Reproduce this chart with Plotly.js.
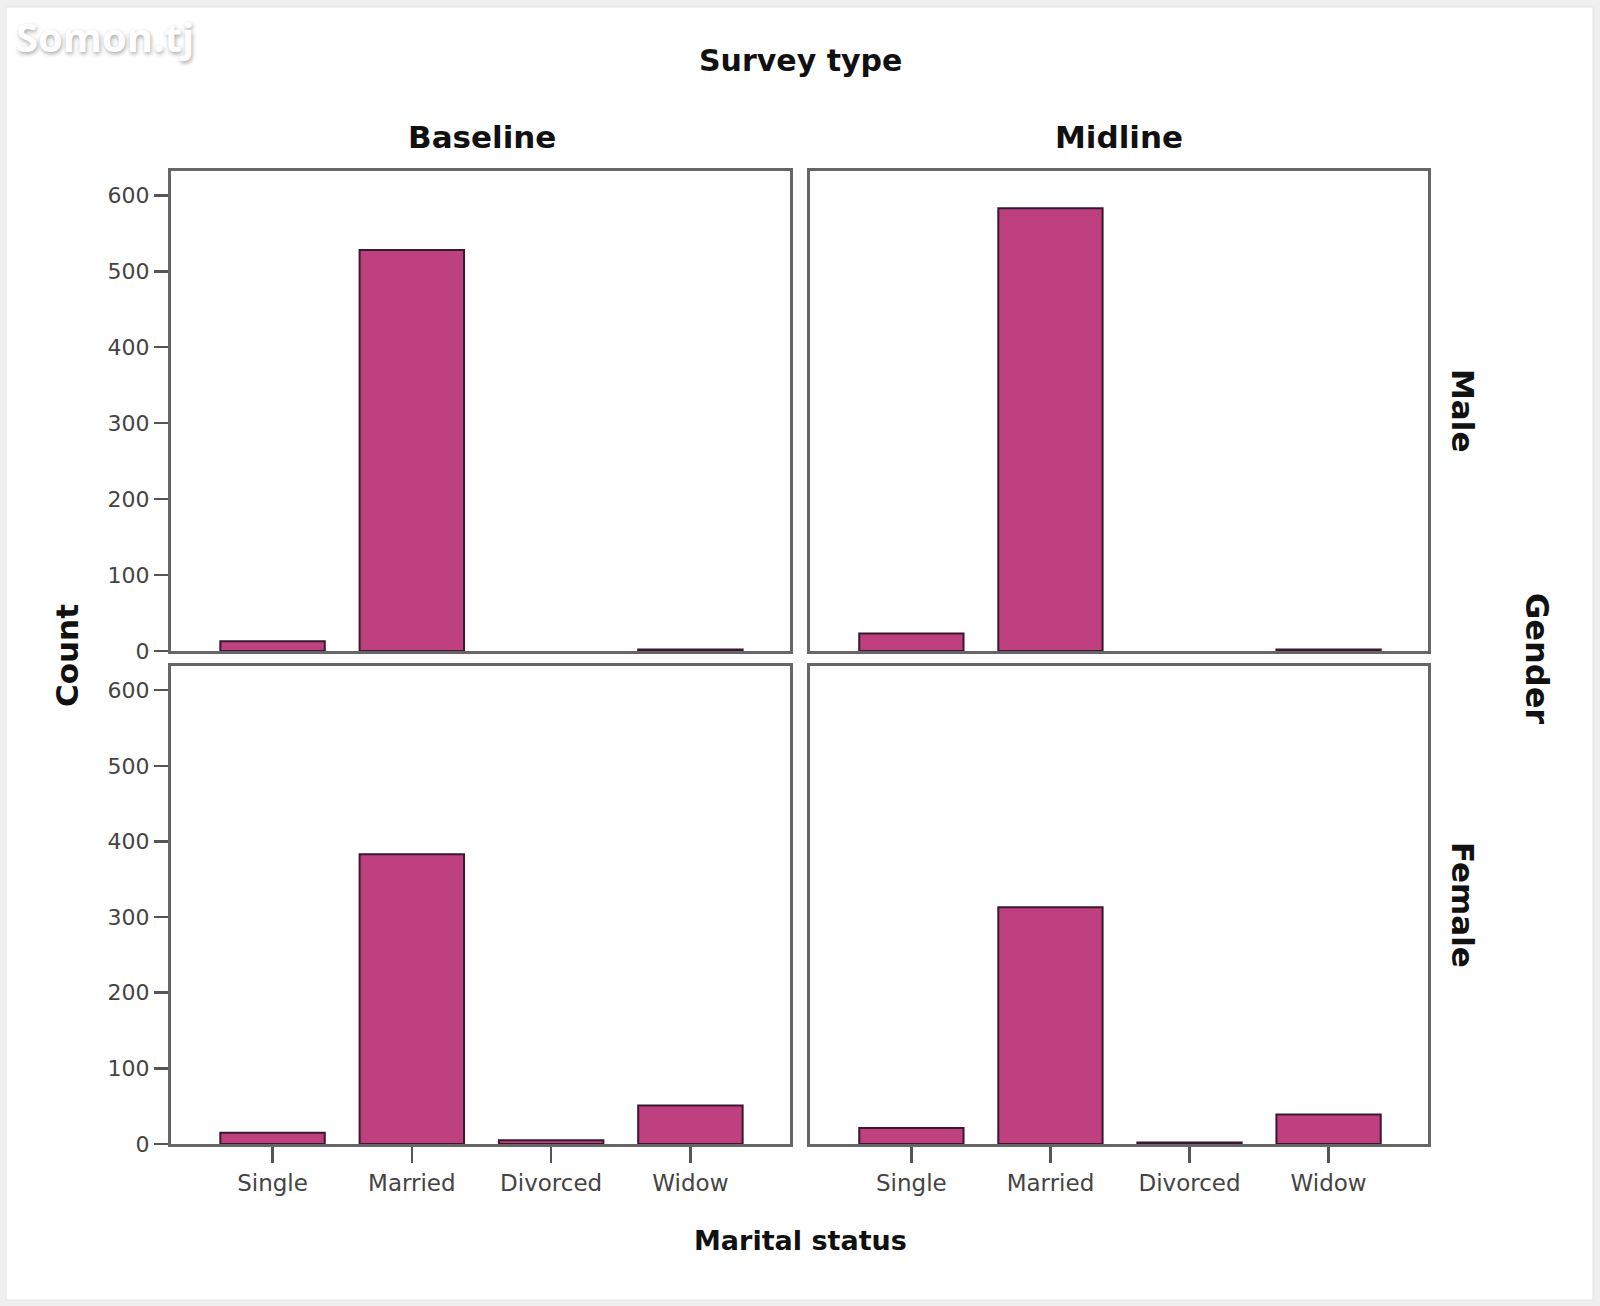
<!DOCTYPE html>
<html>
<head>
<meta charset="utf-8">
<script src="https://cdn.plot.ly/plotly-3.0.1.min.js"></script>
<style>html,body{margin:0;padding:0;background:#efefef;}#chart{width:1600px;height:1306px;}</style>
</head>
<body>
<div id="chart"></div>
<script>
// ---- data ----
const categories = ["Single", "Married", "Divorced", "Widow"];
const baselineMale   = [13, 528, 0, 2];
const midlineMale    = [23, 583, 0, 2];
const baselineFemale = [15, 383, 5, 51];
const midlineFemale  = [21, 313, 2, 39];
const yTickVals = [0, 100, 200, 300, 400, 500, 600];
const surveyTypes = ["Baseline", "Midline"];
const genders = ["Male", "Female"];

// ---- styling ----
const barColor = "#BE407E";
const barLine = "#3a1830";
const frameColor = "#666666";
const W = 1600, H = 1306;
const px = v => v / W;
const py = v => 1 - v / H;

function barTrace(vals, xa, ya) {
  return {
    type: "bar", x: categories, y: vals, xaxis: xa, yaxis: ya,
    width: 0.75,
    marker: {color: barColor,
             line: {color: barLine, width: vals.map(v => v > 0 ? 2 : 0)}},
    hoverinfo: "x+y", showlegend: false
  };
}

const data = [
  barTrace(baselineMale, "x", "y"),
  barTrace(midlineMale, "x2", "y2"),
  barTrace(baselineFemale, "x3", "y3"),
  barTrace(midlineFemale, "x4", "y4")
];

const xLeft = [px(171), px(790)];
const xRight = [px(810), px(1428)];
const yTop = [py(651), py(171)];
const yBottom = [py(1144), py(666)];
const xRange = [-0.729, 3.715];
const yRange = [0, 632];

function xAxis(domain, anchor, showLabels) {
  return {
    domain: domain, anchor: anchor, type: "category", range: xRange,
    showline: true, mirror: true, linecolor: frameColor, linewidth: 3,
    showgrid: false, zeroline: false, fixedrange: true,
    ticks: showLabels ? "outside" : "", ticklen: 16, tickwidth: 2.5, tickcolor: "#555",
    showticklabels: showLabels,
    tickfont: {family: "DejaVu Sans", size: 23, color: "#444"}
  };
}
function yAxis(domain, anchor, showLabels) {
  return {
    domain: domain, anchor: anchor, range: yRange,
    tickvals: yTickVals,
    showline: true, mirror: true, linecolor: frameColor, linewidth: 3,
    showgrid: false, zeroline: false, fixedrange: true,
    ticks: showLabels ? "outside" : "", ticklen: 14, tickwidth: 2.5, tickcolor: "#555",
    showticklabels: showLabels,
    tickfont: {family: "DejaVu Sans", size: 22, color: "#444"}
  };
}

const titleFont = s => ({family: "DejaVu Sans", size: s, color: "#111", weight: "bold"});
function ann(text, x, y, size, angle) {
  return {text: "<b>" + text + "</b>", x: px(x), y: py(y), xref: "paper", yref: "paper",
    xanchor: "center", yanchor: "middle", showarrow: false, textangle: angle || 0,
    font: titleFont(size)};
}

const layout = {
  width: W, height: H,
  margin: {l: 0, r: 0, t: 0, b: 0},
  paper_bgcolor: "#efefef",
  plot_bgcolor: "#ffffff",
  bargap: 0.25,
  xaxis: xAxis(xLeft, "y", false),
  yaxis: yAxis(yTop, "x", true),
  xaxis2: xAxis(xRight, "y2", false),
  yaxis2: yAxis(yTop, "x2", false),
  xaxis3: xAxis(xLeft, "y3", true),
  yaxis3: yAxis(yBottom, "x3", true),
  xaxis4: xAxis(xRight, "y4", true),
  yaxis4: yAxis(yBottom, "x4", false),
  shapes: [{
    type: "rect", xref: "paper", yref: "paper", layer: "below",
    x0: px(6), x1: px(1593), y0: py(1300), y1: py(7),
    fillcolor: "#ffffff", line: {color: "#e4e4e4", width: 1}
  }],
  annotations: [
    ann("Survey type", 800, 61, 30),
    ann(surveyTypes[0], 482, 137, 31),
    ann(surveyTypes[1], 1119, 137, 31),
    ann(genders[0], 1463, 410, 31, 90),
    ann(genders[1], 1463, 905, 31, 90),
    ann("Gender", 1537, 658, 32, 90),
    ann("Count", 67, 656, 31, -90),
    ann("Marital status", 800, 1240, 27),
    {text: "<b>Somon.tj</b>", x: px(14), y: py(37), xref: "paper", yref: "paper",
     xanchor: "left", yanchor: "middle", showarrow: false,
     font: {family: "Open Sans", size: 40, color: "#ffffff", weight: "bold",
            shadow: "1px 2px 4px rgba(0,0,0,0.35)"}}
  ]
};

Plotly.newPlot("chart", data, layout, {displayModeBar: false, staticPlot: true});
</script>
</body>
</html>
